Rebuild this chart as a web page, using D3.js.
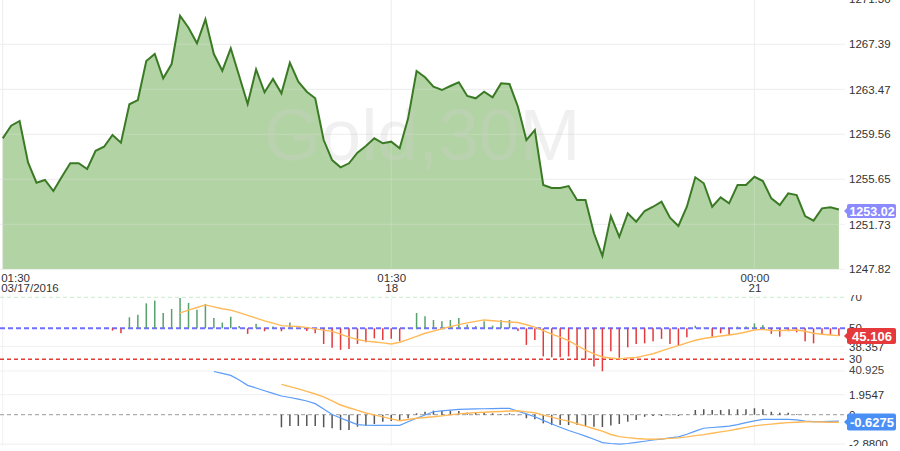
<!DOCTYPE html>
<html><head><meta charset="utf-8">
<script src="https://cdn.jsdelivr.net/npm/d3@7"></script>
<style>
html,body{margin:0;padding:0;background:#fff;}
svg{display:block;font-family:"Liberation Sans",Arial,sans-serif;}
</style></head><body>
<svg id="c" width="900" height="451"></svg>
<script>
// ---------------- data ----------------
const symbol = "Gold,30M";
const price = [1259.21,1260.31,1260.72,1257.12,1255.35,1255.59,1254.63,1255.87,1257.04,1257.04,
1256.54,1258.13,1258.48,1259.50,1258.83,1262.17,1262.54,1265.93,1266.54,1264.43,
1265.67,1269.87,1268.83,1267.47,1269.56,1266.54,1265.09,1267.04,1264.63,1262.19,
1265.21,1263.21,1264.37,1263.12,1265.79,1264.13,1263.26,1262.69,1259.06,1257.32,
1256.69,1257.04,1257.96,1258.54,1259.21,1258.78,1258.92,1258.34,1260.95,1265.06,
1264.52,1263.70,1263.41,1263.76,1264.08,1262.89,1262.69,1263.26,1262.78,1263.99,
1263.93,1261.96,1259.06,1259.93,1255.15,1254.89,1254.89,1255.06,1253.85,1253.85,
1250.95,1248.98,1252.45,1250.65,1252.69,1251.96,1252.89,1253.26,1253.70,1252.31,
1251.59,1253.26,1255.82,1255.30,1253.26,1254.08,1253.56,1255.15,1255.15,1255.87,
1255.50,1253.99,1253.41,1254.43,1254.28,1252.45,1252.05,1253.12,1253.21,1253.02];

const rsiStart = 13;
const rsi = [48.5,46.8,57.1,58.8,66.1,67.9,59.9,
62.5,69.6,66.4,61.9,65.7,56.7,53.7,57.4,51.5,46.4,
53.0,48.1,51.1,48.1,53.7,50.3,48.3,46.8,39.9,37.4,
36.1,36.7,39.9,41.0,43.5,42.5,43.2,41.6,50.4,59.9,
57.7,55.4,54.5,55.4,56.7,52.4,51.5,54.5,51.7,55.4,
55.4,48.3,39.3,42.5,31.9,31.3,31.3,31.9,29.8,29.8,
25.3,22.3,35.2,31.0,37.7,39.9,40.3,41.6,43.2,39.9,
38.8,44.2,51.7,50.3,44.6,46.8,45.7,51.1,51.1,53.2,
52.2,46.4,44.6,48.1,47.4,41.6,40.3,45.7,45.9,45.106];

const rsiMaStart = 21;
const rsiMa = [59.9,61.7,63.4,65.1,63.8,62.6,61.7,60.1,58.3,
56.6,54.8,53.3,51.7,51.4,51.2,50.4,49.6,48.8,48.0,
46.2,44.3,42.8,41.7,41.2,40.6,39.9,41.0,42.9,44.8,
46.8,48.2,49.7,51.1,52.4,53.5,54.5,55.4,54.9,54.5,
54.1,53.7,52.3,50.8,48.5,46.3,44.3,42.1,38.9,35.9,
33.5,31.5,30.8,30.3,30.8,31.2,32.4,33.6,35.4,37.2,
38.8,40.6,42.3,43.4,44.2,45.0,45.7,46.5,47.6,48.9,
49.3,48.6,48.5,48.7,48.9,48.1,46.8,46.2,45.7,45.3];

const macdStart = 25;
const macd = [4.22,4.03,3.84,3.40,2.87,
2.61,2.34,2.08,1.83,1.68,1.53,1.34,1.08,0.55,0.02,
-0.32,-0.65,-0.96,-1.03,-1.04,-1.04,-1.04,-1.04,-0.69,-0.35,
-0.03,0.29,0.37,0.45,0.53,0.55,0.57,0.58,0.60,0.62,
0.61,0.34,0.08,-0.20,-0.55,-0.91,-1.23,-1.54,-1.81,-2.09,
-2.40,-2.72,-2.81,-2.88,-2.81,-2.71,-2.59,-2.47,-2.38,-2.27,
-2.17,-1.91,-1.60,-1.32,-1.25,-1.18,-1.11,-0.97,-0.78,-0.60,
-0.45,-0.45,-0.45,-0.46,-0.50,-0.62,-0.68,-0.67,-0.65,-0.6275];

const signalStart = 33;
const signal = [2.97,2.75,2.53,2.28,2.02,1.74,1.35,
0.95,0.68,0.42,0.17,-0.02,-0.21,-0.40,-0.59,-0.47,-0.35,
-0.27,-0.20,-0.11,-0.02,0.08,0.15,0.20,0.24,0.29,0.32,
0.36,0.38,0.28,0.19,-0.04,-0.24,-0.45,-0.62,-0.88,-1.12,
-1.37,-1.61,-1.93,-2.14,-2.24,-2.32,-2.37,-2.40,-2.36,-2.31,
-2.26,-2.16,-2.04,-1.94,-1.81,-1.68,-1.55,-1.40,-1.24,-1.09,
-0.99,-0.92,-0.84,-0.77,-0.73,-0.69,-0.70,-0.71,-0.73,-0.74];

const histStart = 33;
const hist = [-1.23,-1.10,-1.10,-1.10,-1.10,-1.23,-1.33,
-1.50,-1.50,-1.17,-1.10,-0.91,-0.68,-0.62,-0.52,-0.35,0.14,
0.29,0.39,0.39,0.39,0.36,0.20,0.20,0.20,0.14,0.07,
0.14,-0.06,-0.35,-0.45,-0.84,-1.01,-1.01,-1.01,-1.01,-1.10,
-1.17,-1.20,-1.06,-0.91,-0.68,-0.52,-0.20,-0.13,-0.13,-0.06,
-0.13,-0.03,0.46,0.53,0.46,0.46,0.53,0.53,0.53,0.63,
0.53,0.29,0.20,0.20,0.07,0.02,0,0,0,0];

const timeTicks = [0, 46, 89];
const timeTop = ["01:30", "01:30", "00:00"];
const timeBottom = ["03/17/2016", "18", "21"];
const priceTicks = [1247.82, 1251.73, 1255.65, 1259.56, 1263.47, 1267.39, 1271.30];
const rsiLevels = [70, 50, 30];
const rsiTicks = [70, 50, 38.357, 30];
const rsiTickLabels = ["70", "50", "38.357", "30"];
const rsiGrid = [38.357, 22.45];
const overlapLabel = "40.925";
const macdTicks = [1.9547, 0, -2.88];
const macdTickLabels = ["1.9547", "0", "-2.8800"];
const macdGrid = [1.9547, -2.88];
const priceTag = "1253.02", rsiTag = "45.106", macdTag = "-0.6275";

// ---------------- scales ----------------
const svg = d3.select("#c");
const x = d3.scaleLinear().domain([0, price.length - 1]).range([2.7, 838.9]);
const yP = d3.scaleLinear().domain([1247.82, 1271.30]).range([269.3, -0.7]);
const yR = d3.scaleLinear().domain([30, 70]).range([359.3, 297.3]);
const yM = d3.scaleLinear().domain([-2.88, 1.9547]).range([444.2, 394.7]);
const plotR = 845;
const FONT = "Liberation Sans, Arial, sans-serif";

const defs = svg.append("defs");
defs.append("clipPath").attr("id","clipMain").append("rect").attr("x",0).attr("y",0).attr("width",plotR).attr("height",269.3);
defs.append("clipPath").attr("id","clipRsiLab").append("rect").attr("x",840).attr("y",295).attr("width",60).attr("height",77);
defs.append("clipPath").attr("id","clipMacdLab").append("rect").attr("x",840).attr("y",372).attr("width",60).attr("height",74);

// ---------------- main price panel ----------------
const gMain = svg.append("g");
gMain.selectAll(".hg").data(priceTicks).join("line")
  .attr("x1",0).attr("x2",plotR).attr("y1",d=>yP(d)).attr("y2",d=>yP(d))
  .attr("stroke","#f1f1f1").attr("stroke-width",1);
gMain.selectAll(".vg").data(timeTicks).join("line")
  .attr("x1",d=>x(d)).attr("x2",d=>x(d)).attr("y1",0).attr("y2",269.3)
  .attr("stroke","#f1f1f1").attr("stroke-width",1);

const area = d3.area().x((d,i)=>x(i)).y0(yP(priceTicks[0])).y1(d=>yP(d));
const line = d3.line().x((d,i)=>x(i)).y(d=>yP(d));
gMain.append("path").datum(price).attr("d",area).attr("fill","#b2d4a4").attr("clip-path","url(#clipMain)");

gMain.selectAll(".hg2").data(priceTicks).join("line")
  .attr("x1",0).attr("x2",x(price.length-1)).attr("y1",d=>yP(d)).attr("y2",d=>yP(d))
  .attr("stroke","rgba(230,230,230,0.28)").attr("stroke-width",1);
gMain.selectAll(".vg2").data(timeTicks).join("line")
  .attr("x1",d=>x(d)).attr("x2",d=>x(d)).attr("y1",0).attr("y2",269.3)
  .attr("stroke","rgba(230,230,230,0.28)").attr("stroke-width",1);

// watermark
gMain.append("text").attr("x",422).attr("y",160).attr("text-anchor","middle")
  .attr("font-size",73).attr("fill","rgba(205,205,205,0.3)").text(symbol);

gMain.append("path").datum(price).attr("d",line).attr("fill","none")
  .attr("stroke","#3b7a25").attr("stroke-width",2).attr("clip-path","url(#clipMain)");

// price axis
const axP = svg.append("g").attr("transform","translate(849,0)")
  .call(d3.axisRight(yP).tickValues(priceTicks).tickSize(0).tickPadding(0).tickFormat(d3.format(".2f")));
axP.select(".domain").remove();
axP.selectAll("text").attr("font-size",11.5).attr("fill","#333").attr("font-family",FONT);

// time axis
const axT = svg.append("g").attr("transform","translate(0,269.3)")
  .call(d3.axisBottom(x).tickValues(timeTicks).tickSize(0).tickFormat((d,i)=>timeTop[i]));
axT.select(".domain").remove();
axT.selectAll("text").each(function(d,i){
  const t = d3.select(this);
  const tx = i===0 ? -2 : 0;
  t.text(null).attr("y",12.4).attr("dy",null).attr("font-size",11.5).attr("fill","#333")
   .attr("font-family",FONT).attr("text-anchor", i===0 ? "start" : "middle").attr("x", tx);
  t.append("tspan").attr("x", tx).text(timeTop[i]);
  t.append("tspan").attr("x", tx).attr("dy",10.2).text(timeBottom[i]);
});

// ---------------- RSI panel ----------------
const gR = svg.append("g");
gR.selectAll(".rg").data(rsiGrid).join("line")
  .attr("x1",0).attr("x2",plotR).attr("y1",d=>yR(d)).attr("y2",d=>yR(d))
  .attr("stroke","#f2f2f2").attr("stroke-width",1.2);
gR.selectAll(".rvg").data(timeTicks).join("line")
  .attr("x1",d=>x(d)).attr("x2",d=>x(d)).attr("y1",295).attr("y2",446)
  .attr("stroke","#f1f1f1").attr("stroke-width",1);

const levelStyle = {70:{c:"#c8ecc8",w:1,da:"4,3"},50:{c:"#6e6eff",w:2,da:"5,3"},30:{c:"#e53935",w:1.4,da:"4,3"}};
gR.selectAll(".lvl").data(rsiLevels).join("line")
  .attr("x1",0).attr("x2",plotR).attr("y1",d=>yR(d)).attr("y2",d=>yR(d))
  .attr("stroke",d=>levelStyle[d].c).attr("stroke-width",d=>levelStyle[d].w)
  .attr("stroke-dasharray",d=>levelStyle[d].da);

gR.selectAll(".rb").data(rsi).join("line")
  .attr("x1",(d,i)=>x(i+rsiStart)).attr("x2",(d,i)=>x(i+rsiStart))
  .attr("y1",yR(50)).attr("y2",d=>yR(d))
  .attr("stroke",d=>d>=50?"#58a06c":"#e5393b").attr("stroke-width",1.5);

gR.append("path").datum(rsiMa)
  .attr("d",d3.line().x((d,i)=>x(i+rsiMaStart)).y(d=>yR(d)))
  .attr("fill","none").attr("stroke","#ffb957").attr("stroke-width",1.4);

const axRwrap = svg.append("g").attr("clip-path","url(#clipRsiLab)");
const axR = axRwrap.append("g").attr("transform","translate(849,0)")
  .call(d3.axisRight(yR).tickValues(rsiTicks).tickSize(0).tickPadding(0).tickFormat((d,i)=>rsiTickLabels[i]));
axR.select(".domain").remove();
axR.selectAll("text").attr("font-size",11.5).attr("fill","#333").attr("font-family",FONT);

svg.append("text").attr("x",849).attr("y",yR(rsiGrid[1])+3).attr("font-size",11.5)
  .attr("font-family",FONT).attr("fill","#444").text(overlapLabel);

// ---------------- MACD panel ----------------
const gM = svg.append("g");
gM.selectAll(".mg").data(macdGrid).join("line")
  .attr("x1",0).attr("x2",plotR).attr("y1",d=>yM(d)).attr("y2",d=>yM(d))
  .attr("stroke","#f2f2f2").attr("stroke-width",1.2);
gM.append("line").attr("x1",0).attr("x2",plotR).attr("y1",yM(0)).attr("y2",yM(0))
  .attr("stroke","#9a9a9a").attr("stroke-width",1).attr("stroke-dasharray","4,3");

gM.selectAll(".hb").data(hist.map((v,i)=>({v,i:i+histStart})).filter(d=>d.v!==0)).join("line")
  .attr("x1",d=>x(d.i)).attr("x2",d=>x(d.i)).attr("y1",yM(0)).attr("y2",d=>yM(d.v))
  .attr("stroke","#555").attr("stroke-width",1.5);

gM.append("path").datum(macd)
  .attr("d",d3.line().x((d,i)=>x(i+macdStart)).y(d=>yM(d)))
  .attr("fill","none").attr("stroke","#5b9cf8").attr("stroke-width",1.2);
gM.append("path").datum(signal)
  .attr("d",d3.line().x((d,i)=>x(i+signalStart)).y(d=>yM(d)))
  .attr("fill","none").attr("stroke","#ffb957").attr("stroke-width",1.4);

const axMwrap = svg.append("g").attr("clip-path","url(#clipMacdLab)");
const axM = axMwrap.append("g").attr("transform","translate(849,0)")
  .call(d3.axisRight(yM).tickValues(macdTicks).tickSize(0).tickPadding(0).tickFormat((d,i)=>macdTickLabels[i]));
axM.select(".domain").remove();
axM.selectAll("text").attr("font-size",11.5).attr("fill","#333").attr("font-family",FONT);

// ---------------- value tags ----------------
function tag(y, text, color, h, fs){
  const g = svg.append("g");
  g.append("path").attr("d",`M844,${y} L848,${y-4} L848,${y+4} Z`).attr("fill",color);
  g.append("rect").attr("x",847).attr("y",y-h/2).attr("width",49).attr("height",h).attr("rx",2).attr("fill",color);
  g.append("text").attr("x",872).attr("y",y).attr("dy","0.36em").attr("text-anchor","middle")
    .attr("font-family",FONT).attr("font-size",fs).attr("font-weight","bold").attr("fill","#fff").text(text);
}
tag(yP(price[price.length-1]) + 1.5, priceTag, "#8b8bff", 14, 12.5);
tag(yR(rsi[rsi.length-1]), rsiTag, "#e5393b", 16, 13);
tag(yM(macd[macd.length-1]) + 0.8, macdTag, "#4a8ff6", 17, 13);
</script>
</body></html>
